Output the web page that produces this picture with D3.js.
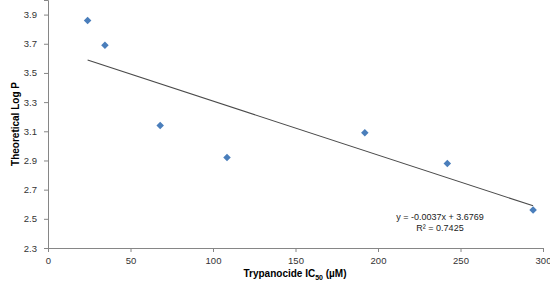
<!DOCTYPE html>
<html>
<head>
<meta charset="utf-8">
<script src="https://cdn.jsdelivr.net/npm/d3@7"></script>
<style>
    body { margin: 0; background: #fff; }
    text { font-family: "Liberation Sans", Arial, sans-serif; }
</style>
</head>
<body>
<div id="chart"></div>
<script>
// IC50 values (µM) and theoretical log P
const ic50 = [24, 34.5, 68, 108.5, 192, 242, 294];
const logP = [3.86, 3.69, 3.14, 2.92, 3.09, 2.88, 2.56];
const xTicks = [0, 50, 100, 150, 200, 250, 300];
const yTicks = [2.3, 2.5, 2.7, 2.9, 3.1, 3.3, 3.5, 3.7, 3.9];
const slope = -0.0037, intercept = 3.6769;
const eqLines = ["y = -0.0037x + 3.6769", "R² = 0.7425"];

const width = 550, height = 291;
const margin = { top: 0, right: 7, bottom: 43, left: 48 };

const svg = d3.select("#chart").append("svg")
    .attr("width", width).attr("height", height);

const x = d3.scaleLinear().domain([0, 300]).range([margin.left, width - margin.right]);
const y = d3.scaleLinear().domain([2.3, 4.0]).range([height - margin.bottom, margin.top]);

const axisColor = "#868686";

// axes
const xAxis = svg.append("g")
    .attr("transform", `translate(0,${y(2.3)})`)
    .call(d3.axisBottom(x).tickValues(xTicks).tickSize(4).tickPadding(5));
const yAxis = svg.append("g")
    .attr("transform", `translate(${x(0)},0)`)
    .call(d3.axisLeft(y).tickValues(yTicks).tickSize(4).tickPadding(7).tickFormat(d3.format(".1f")));

[xAxis, yAxis].forEach(g => {
    g.select(".domain").attr("stroke", axisColor);
    g.selectAll(".tick line").attr("stroke", axisColor);
    g.selectAll(".tick text").attr("fill", "#333").style("font-size", "9.5px");
});

// trendline
const x0 = d3.min(ic50), x1 = d3.max(ic50);
svg.append("line")
    .attr("x1", x(x0)).attr("y1", y(slope * x0 + intercept))
    .attr("x2", x(x1)).attr("y2", y(slope * x1 + intercept))
    .attr("stroke", "#4a4a4a").attr("stroke-width", 1.1);

// markers
svg.selectAll(".pt")
    .data(ic50.map((v, i) => ({ x: v, y: logP[i] })))
    .enter().append("path")
    .attr("class", "pt")
    .attr("d", d3.symbol().type(d3.symbolDiamond2).size(36))
    .attr("transform", d => `translate(${x(d.x)},${y(d.y)})`)
    .attr("fill", "#4a7ebb");

// equation
svg.selectAll(".eq")
    .data(eqLines).enter().append("text")
    .attr("class", "eq")
    .attr("x", 440).attr("y", (d, i) => 220 + i * 11)
    .attr("text-anchor", "middle")
    .style("font-size", "9px").attr("fill", "#222")
    .text(d => d);

// axis titles
const xt = svg.append("text")
    .attr("x", 295).attr("y", 277)
    .attr("text-anchor", "middle")
    .style("font-size", "10px").style("font-weight", "bold");
xt.append("tspan").text("Trypanocide IC");
xt.append("tspan").attr("dy", 3).style("font-size", "7px").text("50");
xt.append("tspan").attr("dy", -3).text(" (µM)");

svg.append("text")
    .attr("transform", `translate(19,124) rotate(-90)`)
    .attr("text-anchor", "middle")
    .style("font-size", "10px").style("font-weight", "bold")
    .text("Theoretical Log P");
</script>
</body>
</html>
